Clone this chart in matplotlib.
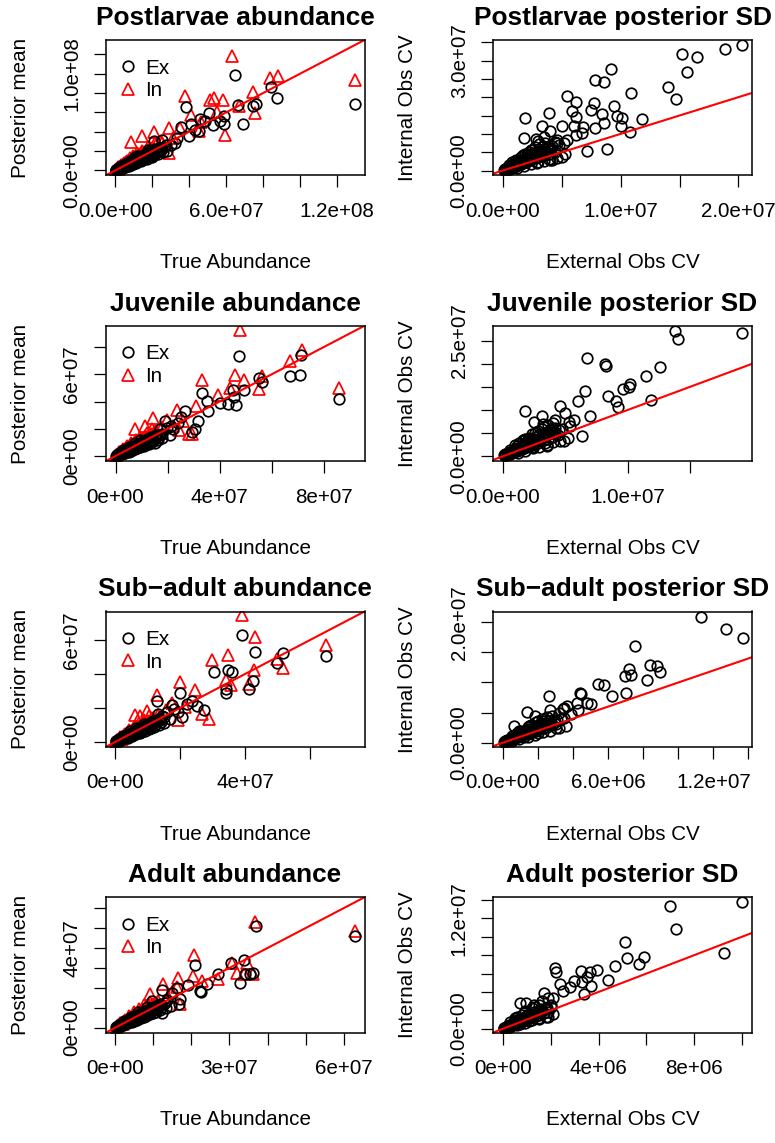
import numpy as np
from matplotlib import pyplot as plt

plt.rcParams['font.family'] = ['Liberation Sans', 'DejaVu Sans']

SCALE = 1e6  # all values below are in millions

# ---------------- Postlarvae ----------------
pl_ex = [(0.2,0.3),(0.5,0.4),(0.8,0.9),(1.1,0.8),(1.4,1.6),(1.8,1.5),(2.1,2.4),(2.5,2.0),(2.9,3.1),(3.2,2.7),
         (3.6,3.9),(4.0,3.4),(4.5,4.8),(4.9,4.2),(5.4,5.9),(5.8,4.9),(6.3,6.7),(6.9,5.8),(7.4,8.0),(7.9,6.6),
         (8.5,9.1),(9.1,7.7),(9.7,10.4),(10.4,8.9),(11.0,11.8),(11.7,9.8),(12.4,13.0),(13.2,11.1),(13.9,14.6),(14.7,12.3),
         (15.5,16.2),(16.3,13.4),(17.2,17.8),(18.1,15.2),(19.0,19.9),(20.2,16.8),(21.3,21.7),(22.5,18.6),(23.8,23.1),(25.0,21.4),
         (26.4,24.6),(3.0,4.6),(5.2,7.0),(8.0,10.1),(10.9,13.6),(6.5,4.7),(9.8,7.1),(14.2,10.6),(17.6,20.8),(12.0,15.1),
         (0.4,0.7),(1.0,1.2),(1.6,1.2),(2.3,2.9),(2.7,2.4),(3.4,3.2),(4.2,4.7),(4.7,3.7),(5.6,6.3),(6.1,5.3),
         (7.0,7.4),(7.6,6.3),(8.8,8.5),(9.4,9.9),(10.1,9.4),(11.4,10.6),(12.8,12.1),(13.6,12.5),(15.1,14.5),(16.0,15.6),
         (18.6,17.7),(19.6,18.3),(22.0,20.5),(24.5,22.9),(27.5,26.0),
         (3.5,2.2),(5.0,3.3),(7.2,4.9),(8.6,6.0),(11.0,7.9),(12.5,9.2),(15.8,11.9),(18.8,14.3),(21.0,15.9),(23.2,17.2),
         (26.0,19.5),(4.4,2.6),(13.9,9.6),(17.0,12.0),(20.0,13.6),
         (20.8,30.0),(25.3,31.7),(28.0,19.7),(32.5,28.3),(35.7,44.5),(39.7,35.9),(41.2,48.3),(45.1,40.3),(46.0,53.4),(50.9,59.3),
         (53.0,47.0),(56.5,50.8),(58.6,47.5),(38.3,65.5),(65.0,99.0),(66.4,67.9),(69.1,48.3),(74.4,66.2),(76.2,68.6),(84.3,86.2),
         (87.5,74.5),(129.6,69.0),(30.0,26.0),(33.5,33.0),(43.0,42.0),(48.5,51.0),(59.0,56.0)]
pl_in = [(0.3,0.5),(0.6,1.0),(1.0,1.4),(1.3,2.0),(1.7,2.3),(2.1,3.0),(2.5,3.4),(2.9,4.2),(3.4,4.6),(3.8,5.5),
         (4.3,5.9),(4.8,6.9),(5.3,7.2),(5.9,8.4),(6.5,8.6),(7.1,10.0),(7.7,10.1),(8.4,11.7),(9.1,11.9),(9.8,13.5),
         (10.6,13.5),(11.4,15.3),(12.2,15.0),(13.1,17.2),(14.0,16.8),(15.0,19.4),(16.0,18.6),(17.1,21.3),(18.3,20.5),(19.5,23.4),
         (20.8,22.6),(22.1,25.8),(23.6,24.7),(25.2,28.0),(4.0,4.2),(7.0,7.6),(10.2,10.9),(13.5,14.0),(16.8,16.5),(2.0,1.8),
         (1.5,3.0),(3.0,5.4),(4.6,7.8),(6.2,9.9),(8.0,12.6),(9.5,14.7),(11.8,17.5),(14.5,20.5),(17.5,24.5),(21.5,28.8),
         (8.7,29.0),(14.4,35.2),(20.8,39.3),(28.9,43.8),(35.2,43.8),(45.1,40.3),(28.9,17.9),(37.9,76.5),(41.2,57.6),(51.4,73.1),
         (53.3,74.8),(58.1,73.1),(59.6,36.9),(66.8,66.9),(63.2,117.9),(74.4,80.7),(75.8,59.3),(83.9,95.5),(87.9,97.2),(129.6,93.8),
         (31.0,33.0),(24.5,30.5),(46.5,50.5),(55.0,60.5)]
pl_sd = [(0.1,0.2),(0.2,0.5),(0.3,0.3),(0.4,0.8),(0.5,0.5),(0.6,1.1),(0.7,0.7),(0.8,1.4),(0.9,1.0),(1.0,1.8),
         (1.1,1.2),(1.2,2.1),(1.3,1.5),(1.4,2.5),(1.5,1.7),(1.6,2.8),(1.7,2.0),(1.8,3.2),(1.9,2.3),(2.0,3.6),
         (2.1,2.6),(2.2,4.0),(2.3,2.9),(2.4,4.3),(2.5,3.1),(2.6,4.7),(2.8,3.4),(2.9,5.0),(3.0,3.6),(3.2,5.4),
         (3.3,3.9),(3.5,5.8),(3.6,4.2),(3.8,6.1),(4.0,4.6),(4.2,6.6),(4.4,5.0),(0.5,1.5),(1.0,2.6),(1.5,3.6),
         (0.8,2.2),(2.2,5.1),(1.9,4.6),(3.1,7.1),(2.7,6.4),(4.6,7.4),(3.0,2.4),(3.9,3.1),(4.2,2.9),(4.8,7.0),
         (0.15,0.35),(0.35,0.6),(0.55,0.9),(0.75,1.0),(0.95,1.5),(1.15,1.6),(1.35,1.9),(1.55,2.3),(1.75,2.5),(1.95,2.9),
         (2.15,3.2),(2.35,3.5),(2.55,3.9),(2.75,4.1),(3.0,4.6),(3.25,4.5),(3.45,5.0),(3.7,5.1),(3.9,5.5),(4.1,5.9),
         (1.3,3.0),(2.0,4.6),(2.5,5.6),(3.4,6.6),(4.4,7.9),(3.0,8.0),
         (0.6,0.4),(1.2,0.8),(1.8,1.3),(2.4,1.8),(2.9,2.1),(3.5,2.6),(4.0,2.9),(4.6,3.4),(5.0,3.6),(5.3,4.4),
         (1.1,2.9),(1.7,4.1),(2.4,5.6),(3.6,7.6),
         (5.2,7.6),(1.9,14.3),(1.8,8.8),(3.9,15.6),(3.3,12.2),(4.0,10.8),(2.8,8.5),(3.5,9.2),(4.6,8.2),(5.0,12.2),
         (5.4,8.4),(5.4,20.4),(6.2,18.6),(5.9,16.1),(6.2,14.7),(6.0,12.2),(6.8,11.8),(6.7,10.2),(6.2,9.8),(7.1,5.2),
         (7.5,16.4),(7.7,18.4),(7.8,24.7),(7.8,11.7),(8.4,15.5),(8.6,12.9),(8.6,24.1),(8.8,5.8),(9.2,27.6),(9.4,17.6),
         (9.7,15.0),(10.0,12.2),(10.1,14.2),(10.8,10.6),(10.9,21.1),(11.8,14.0),(14.0,22.7),(14.7,19.5),(15.2,31.8),(15.6,26.8),
         (16.5,30.9),(18.9,33.1),(20.3,34.3)]

# ---------------- Juvenile ----------------
jv_ex = [(0.2,0.3),(0.5,0.4),(0.8,0.9),(1.1,0.8),(1.4,1.5),(1.7,1.3),(2.0,2.2),(2.4,1.9),(2.8,2.9),(3.1,2.5),
         (3.5,3.6),(3.9,3.1),(4.3,4.5),(4.7,3.9),(5.2,5.4),(5.6,4.6),(6.1,6.4),(6.6,5.4),(7.1,7.3),(7.6,6.3),
         (8.2,8.4),(8.8,7.3),(9.4,9.7),(10.0,8.3),(10.7,11.0),(11.3,9.4),(12.0,12.4),(12.8,10.6),(13.6,13.9),(14.5,11.8),
         (15.4,15.6),(16.3,13.0),(3.0,4.1),(5.0,6.6),(7.3,9.2),(9.6,11.6),(6.2,4.3),(9.0,6.5),(12.0,8.8),(1.0,1.6),
         (0.4,0.6),(0.9,1.1),(1.3,1.0),(1.9,1.9),(2.3,2.6),(2.7,2.2),(3.3,3.3),(3.7,4.0),(4.1,3.7),(4.6,4.8),
         (5.0,4.3),(5.8,5.6),(6.4,6.0),(7.0,6.8),(7.9,7.6),(8.6,8.2),(9.2,8.7),(10.3,9.8),(11.0,10.2),(11.7,11.3),
         (12.5,11.6),(13.2,12.7),(14.0,13.1),(15.0,14.2),(16.8,15.8),(17.8,16.3),
         (3.0,2.0),(4.5,3.1),(6.0,4.0),(7.5,5.1),(9.5,6.6),(11.0,7.6),(13.0,9.1),(14.2,10.1),(16.5,11.8),(18.0,13.4),
         (5.2,3.3),(8.3,5.6),
         (15.2,9.8),(19.0,25.6),(19.6,20.5),(22.2,19.5),(20.9,15.6),(26.7,32.9),(24.2,24.0),(29.3,17.6),(30.5,19.5),(31.8,25.6),
         (33.4,46.3),(35.1,40.2),(35.4,32.9),(40.2,39.0),(43.4,38.5),(45.0,48.3),(46.3,37.8),(45.7,43.0),(47.5,73.7),(49.2,48.3),
         (55.0,57.3),(56.2,54.1),(67.2,59.0),(71.0,59.8),(71.4,73.9),(85.8,42.0),(17.0,19.5),(21.5,22.3),(25.0,28.5)]
jv_in = [(0.3,0.5),(0.6,1.0),(1.0,1.3),(1.3,1.9),(1.7,2.2),(2.1,2.9),(2.5,3.2),(2.9,4.0),(3.4,4.3),(3.8,5.2),
         (4.3,5.5),(4.8,6.5),(5.3,6.8),(5.9,7.9),(6.5,8.1),(7.1,9.4),(7.7,9.6),(8.4,11.1),(9.1,11.2),(9.8,12.8),
         (10.6,12.8),(11.4,14.5),(12.2,14.3),(13.1,16.3),(14.0,16.0),(15.0,18.2),(16.0,17.5),(2.0,1.9),(5.0,5.1),(8.0,8.2),
         (11.0,11.1),(1.5,2.9),(3.0,4.9),(4.5,7.1),(6.0,9.2),(7.8,11.8),(9.5,14.2),(12.0,17.0),(14.0,19.5),
         (7.4,19.5),(11.3,22.0),(14.5,28.0),(19.6,26.8),(23.5,34.1),(22.0,22.0),(26.0,25.5),(29.3,15.9),(28.2,15.9),
         (30.8,36.6),(33.4,55.6),(39.5,45.1),(44.0,50.0),(46.0,59.8),(47.9,92.7),(49.2,56.1),(55.0,49.3),(56.2,58.5),(67.2,69.5),
         (71.6,78.0),(86.0,50.0),(18.0,21.0),(24.5,19.0)]
jv_sd = [(0.1,0.2),(0.2,0.4),(0.3,0.3),(0.4,0.7),(0.5,0.5),(0.6,0.9),(0.7,0.7),(0.8,1.2),(0.9,0.9),(1.0,1.5),
         (1.1,1.1),(1.2,1.8),(1.3,1.3),(1.4,2.1),(1.5,1.5),(1.6,2.4),(1.7,1.8),(1.8,2.8),(1.9,2.0),(2.0,3.1),
         (2.1,2.2),(2.2,3.4),(2.3,2.4),(2.4,3.8),(2.5,2.7),(2.6,4.1),(2.8,2.9),(2.9,4.5),(3.0,3.2),(3.2,4.9),
         (3.3,3.5),(3.5,5.3),(3.6,3.8),(3.8,5.7),(4.0,4.2),(4.2,6.1),(4.4,4.6),(0.6,1.4),(1.1,2.3),(1.6,3.2),
         (2.1,4.0),(2.6,5.0),(3.1,5.9),(3.6,6.7),(4.0,7.2),(2.3,1.9),(3.4,2.9),(1.8,3.7),(3.9,6.2),(4.7,5.9),
         (0.15,0.3),(0.35,0.5),(0.55,0.8),(0.75,0.9),(0.95,1.3),(1.15,1.4),(1.35,1.8),(1.55,1.9),(1.75,2.3),(1.95,2.5),
         (2.15,2.9),(2.35,3.0),(2.55,3.4),(2.75,3.6),(3.0,4.0),(3.25,4.2),(3.45,4.6),(3.7,4.8),(3.9,5.2),(4.2,5.3),
         (4.5,5.6),(1.3,2.8),(2.0,3.8),(2.8,5.5),(3.3,6.4),
         (0.6,0.4),(1.2,0.8),(1.8,1.2),(2.4,1.7),(2.9,2.0),(3.5,2.5),(4.0,3.0),(4.6,3.3),(5.2,3.9),(1.0,2.4),
         (1.6,3.6),(2.3,4.9),(3.2,6.9),
         (1.8,9.7),(3.1,8.8),(2.5,7.4),(3.5,2.3),(4.6,10.8),(5.0,9.3),(4.9,3.2),(4.2,7.9),(5.3,7.3),(5.7,7.8),
         (5.4,6.6),(6.0,11.9),(6.3,4.3),(6.6,14.0),(6.7,21.2),(7.0,8.8),(8.2,20.0),(8.3,19.6),(8.4,13.1),(9.1,11.9),
         (9.2,10.6),(9.6,14.5),(10.2,15.7),(10.1,15.0),(11.5,17.4),(11.9,12.2),(12.6,19.2),(13.8,27.1),(14.0,25.3),(19.2,26.7)]

# ---------------- Sub-adult ----------------
sa_ex = [(0.2,0.3),(0.4,0.3),(0.7,0.8),(0.9,0.7),(1.2,1.3),(1.5,1.1),(1.8,1.9),(2.1,1.7),(2.4,2.6),(2.8,2.3),
         (3.1,3.3),(3.5,2.9),(3.9,4.1),(4.3,3.6),(4.7,5.0),(5.2,4.3),(5.7,6.0),(6.2,5.2),(6.7,7.0),(7.2,6.1),
         (7.8,8.2),(8.4,7.1),(9.0,9.4),(9.6,8.1),(10.3,10.7),(11.0,9.3),(11.7,12.1),(12.5,10.6),(13.3,13.5),(14.1,11.7),
         (2.5,3.6),(4.5,6.2),(6.5,8.4),(8.8,10.8),(5.5,3.8),(8.0,5.9),(11.0,8.3),(1.0,1.5),(15.0,14.6),
         (0.3,0.5),(0.8,0.9),(1.1,1.0),(1.6,1.6),(1.9,2.2),(2.3,2.0),(2.7,2.9),(3.0,2.7),(3.5,3.6),(3.7,3.3),
         (4.1,4.4),(4.5,4.0),(5.0,5.2),(5.4,4.8),(6.0,6.3),(6.5,5.8),(7.0,7.4),(7.5,6.7),(8.1,8.5),(8.7,7.8),
         (9.3,9.7),(10.0,9.0),(10.7,11.0),(11.4,10.2),(12.1,12.5),(13.8,12.6),
         (2.5,1.6),(3.8,2.5),(5.0,3.3),(6.4,4.4),(7.5,5.3),(9.0,6.4),(10.5,7.5),(12.0,8.7),(13.5,10.0),(15.0,11.2),
         (16.8,13.2),
         (12.7,23.8),(14.5,15.5),(16.0,17.5),(17.3,21.4),(17.9,19.5),(19.9,28.8),(20.4,14.6),(19.4,17.5),(23.5,24.3),(25.0,21.0),
         (27.4,18.5),(30.2,41.3),(34.0,28.8),(34.0,31.0),(34.8,42.4),(35.9,40.9),(39.0,62.7),(41.2,30.8),(42.3,36.0),(42.9,53.0),
         (49.6,46.3),(51.5,52.2),(64.7,50.2),(22.0,22.5),(13.0,16.5)]
sa_in = [(0.3,0.5),(0.6,0.9),(0.9,1.3),(1.2,1.8),(1.6,2.1),(2.0,2.8),(2.4,3.1),(2.8,3.8),(3.2,4.1),(3.7,5.0),
         (4.2,5.2),(4.7,6.2),(5.2,6.4),(5.8,7.6),(6.4,7.7),(7.0,9.0),(7.6,9.1),(8.3,10.6),(9.0,10.6),(9.7,12.2),
         (10.5,12.1),(11.3,13.9),(12.1,13.6),(13.0,15.6),(2.0,1.9),(5.0,5.0),(8.0,8.0),(11.0,10.8),
         (1.5,2.8),(3.0,4.8),(4.3,6.8),(5.7,8.8),(7.2,11.0),(8.8,13.0),(10.5,15.2),
         (6.0,16.0),(7.5,15.0),(9.8,18.0),(12.7,27.3),(17.3,23.0),(19.9,35.0),(19.4,12.7),(21.5,20.5),(24.5,30.2),(26.6,16.5),
         (28.7,13.6),(29.7,48.3),(34.6,51.0),(34.0,36.5),(35.5,33.5),(39.0,74.4),(41.2,34.1),(42.6,42.4),(43.1,61.9),(49.6,48.5),
         (51.5,43.2),(64.7,56.9),(15.5,18.5)]
sa_sd = [(0.05,0.1),(0.1,0.2),(0.2,0.2),(0.25,0.4),(0.3,0.3),(0.4,0.6),(0.45,0.5),(0.5,0.8),(0.6,0.6),(0.65,1.0),
         (0.7,0.8),(0.8,1.2),(0.85,0.9),(0.9,1.4),(1.0,1.1),(1.05,1.6),(1.1,1.2),(1.2,1.8),(1.3,1.4),(1.35,2.0),
         (1.4,1.5),(1.5,2.2),(1.6,1.7),(1.65,2.4),(1.7,1.9),(1.8,2.6),(1.9,2.0),(2.0,2.9),(2.1,2.2),(2.2,3.1),
         (2.3,2.4),(2.4,3.3),(2.5,2.6),(2.6,3.6),(2.8,2.9),(2.9,3.8),(3.0,3.1),(0.5,1.1),(1.0,2.0),(1.5,2.8),
         (2.0,3.6),(2.5,4.2),(1.2,0.9),(2.0,1.6),
         (0.15,0.25),(0.35,0.45),(0.55,0.7),(0.75,0.9),(0.95,1.25),(1.15,1.45),(1.25,1.65),(1.45,1.85),(1.55,2.0),(1.75,2.2),
         (1.85,2.4),(2.05,2.6),(2.25,2.75),(2.35,2.9),(2.55,3.1),(2.7,3.3),(2.95,3.5),(3.1,3.7),(3.3,3.9),(3.5,4.1),
         (0.8,1.6),(1.6,2.9),(2.3,3.6),
         (0.5,0.35),(0.9,0.6),(1.4,1.0),(1.8,1.3),(2.3,1.7),(2.7,2.0),(3.2,2.4),(3.6,2.7),(0.9,1.9),(1.4,2.6),
         (1.9,3.4),(2.8,4.4),
         (0.6,2.8),(1.37,5.1),(1.8,4.4),(2.2,3.9),(2.6,7.7),(2.7,5.4),(3.05,2.5),(3.2,4.9),(3.4,5.6),(3.66,6.1),
         (3.5,5.8),(4.3,5.4),(4.4,8.2),(4.45,8.1),(4.2,6.6),(4.8,6.6),(5.0,6.5),(5.4,9.7),(5.75,9.6),(6.2,7.8),
         (6.95,11.1),(7.0,8.2),(7.2,12.3),(7.3,11.2),(7.5,16.1),(8.2,10.4),(8.4,12.9),(8.8,12.7),(8.95,11.8),(11.3,20.9),
         (12.7,18.9),(13.7,17.4),(3.9,4.7)]

# ---------------- Adult ----------------
ad_ex = [(0.2,0.3),(0.4,0.3),(0.6,0.7),(0.8,0.6),(1.1,1.2),(1.3,1.0),(1.6,1.7),(1.9,1.5),(2.2,2.4),(2.5,2.1),
         (2.8,3.0),(3.1,2.6),(3.5,3.7),(3.8,3.2),(4.2,4.4),(4.6,3.9),(5.0,5.3),(5.4,4.6),(5.9,6.2),(6.3,5.3),
         (6.8,7.1),(7.3,6.2),(7.8,8.1),(8.4,7.0),(9.0,9.3),(9.6,8.1),(10.2,10.5),(10.9,9.1),(11.6,11.9),(12.3,10.3),
         (2.2,3.2),(4.0,5.4),(6.0,7.8),(8.2,10.2),(5.0,3.5),(7.4,5.3),(10.0,7.5),(1.0,1.5),(13.0,12.4),
         (0.3,0.5),(0.7,0.9),(0.9,0.8),(1.2,1.4),(1.5,1.4),(1.8,2.0),(2.0,1.9),(2.4,2.7),(2.7,2.5),(3.0,3.3),
         (3.3,3.0),(3.7,4.0),(4.0,3.6),(4.4,4.7),(4.8,4.3),(5.2,5.6),(5.6,5.0),(6.1,6.5),(6.6,6.0),(7.1,7.5),
         (7.6,7.0),(8.1,8.5),(8.7,8.0),(9.3,9.7),(9.9,9.0),(10.6,10.9),(11.2,10.1),(12.0,11.4),
         (2.0,1.3),(3.2,2.2),(4.4,3.0),(5.6,3.9),(6.8,4.8),(8.0,5.7),(9.2,6.6),(10.6,7.6),(11.8,8.6),(13.2,9.6),
         (14.5,11.0),
         (9.5,13.3),(12.3,18.7),(12.3,7.5),(13.5,14.0),(15.0,17.5),(16.1,20.0),(17.0,14.2),(16.8,11.7),(19.2,21.3),(20.9,31.3),
         (22.5,18.0),(22.3,18.6),(26.9,27.0),(30.4,32.5),(32.8,22.5),(33.9,34.2),(34.1,27.0),(36.3,27.5),(35.5,26.8),(36.9,51.3),
         (62.9,45.8),(24.0,22.0)]
ad_in = [(0.3,0.5),(0.5,0.8),(0.8,1.2),(1.1,1.6),(1.4,1.9),(1.7,2.4),(2.0,2.7),(2.4,3.3),(2.8,3.5),(3.2,4.3),
         (3.6,4.5),(4.0,5.3),(4.5,5.5),(5.0,6.4),(5.5,6.6),(6.0,7.6),(6.6,7.8),(7.2,8.9),(7.8,9.0),(8.4,10.3),
         (9.1,10.4),(9.8,11.8),(10.5,11.8),(11.3,13.4),(2.0,1.9),(4.5,4.5),(7.0,7.0),(10.0,9.8),
         (1.2,2.3),(2.4,4.0),(3.6,5.8),(4.9,7.6),(6.2,9.4),(7.6,11.2),(9.0,13.0),
         (9.1,16.7),(12.6,21.7),(13.8,15.5),(16.5,24.7),(16.1,20.5),(17.0,11.7),(20.4,25.8),(20.7,36.3),(22.8,23.3),(27.1,24.2),
         (30.6,32.5),(34.5,32.5),(33.8,27.0),(36.2,27.0),(32.0,27.3),(36.7,53.3),(62.9,48.3),(15.0,18.0)]
ad_sd = [(0.03,0.05),(0.07,0.12),(0.1,0.1),(0.14,0.22),(0.18,0.2),(0.22,0.33),(0.26,0.28),(0.3,0.45),(0.34,0.36),(0.38,0.56),
         (0.42,0.45),(0.46,0.68),(0.5,0.52),(0.55,0.8),(0.6,0.6),(0.65,0.93),(0.7,0.72),(0.75,1.06),(0.8,0.82),(0.85,1.2),
         (0.9,0.92),(0.95,1.34),(1.0,1.02),(1.06,1.48),(1.12,1.12),(1.18,1.62),(1.24,1.24),(1.3,1.78),(1.38,1.36),(1.45,1.95),
         (1.52,1.5),(1.6,2.1),(1.7,1.68),(1.8,2.3),(1.9,1.85),(0.3,0.7),(0.6,1.3),(0.9,1.8),(1.2,2.2),(1.5,2.6),
         (0.7,0.5),(1.1,0.85),(1.5,1.2),(1.62,3.05),(2.0,2.4),
         (0.05,0.1),(0.12,0.18),(0.2,0.28),(0.28,0.38),(0.36,0.48),(0.44,0.58),(0.52,0.66),(0.58,0.75),(0.62,0.86),(0.68,0.88),
         (0.78,0.98),(0.88,1.1),(0.98,1.2),(1.08,1.3),(1.16,1.4),(1.22,1.5),(1.34,1.6),(1.42,1.7),(1.55,1.8),(1.65,1.95),
         (1.75,2.1),(1.85,2.2),(0.5,1.0),(0.8,1.5),(1.35,2.4),
         (0.3,0.2),(0.6,0.4),(0.9,0.6),(1.2,0.9),(1.5,1.05),(1.8,1.3),(2.1,1.55),(0.5,1.2),(0.9,1.9),(1.3,2.6),
         (1.9,3.3),
         (0.7,2.8),(0.95,2.8),(1.7,3.9),(1.9,1.3),(2.0,2.6),(2.1,3.3),(2.16,6.6),(2.2,6.2),(2.4,4.9),(2.5,4.1),
         (2.8,4.5),(2.95,5.2),(3.25,6.25),(3.3,5.1),(3.4,3.8),(3.65,6.2),(3.7,4.6),(3.95,6.4),(4.4,5.3),(4.7,6.8),
         (5.1,9.45),(5.2,7.7),(5.7,7.0),(5.9,7.75),(7.0,13.3),(7.25,10.9),(9.26,8.25),(10.0,13.75),(3.5,5.6)]

titles = ['Postlarvae abundance', 'Postlarvae posterior SD',
          'Juvenile abundance', 'Juvenile posterior SD',
          'Sub\u2212adult abundance', 'Sub\u2212adult posterior SD',
          'Adult abundance', 'Adult posterior SD']

# axis limits (millions)
xlims = [(-5.3, 134.9), (-0.85, 21.16), (-3.85, 95.7), (-0.8, 19.97),
         (-3.0, 76.6), (-0.57, 14.2), (-2.6, 65.5), (-0.42, 10.42)]
ylims = [(-5.3, 134.9), (-1.36, 35.6), (-3.85, 95.7), (-1.08, 28.2),
         (-3.0, 76.6), (-0.72, 21.8), (-2.6, 65.5), (-0.44, 14.3)]

# ticks (millions) and which of them carry a label
xticks = [[0, 20, 40, 60, 80, 100, 120], [0, 5, 10, 15, 20], [0, 20, 40, 60, 80], [0, 5, 10, 15],
          [0, 20, 40, 60], [0, 2, 4, 6, 8, 10, 12, 14], [0, 10, 20, 30, 40, 50, 60], [0, 2, 4, 6, 8, 10]]
xtlabs = [['0.0e+00', '', '', '6.0e+07', '', '', '1.2e+08'], ['0.0e+00', '', '1.0e+07', '', '2.0e+07'],
          ['0e+00', '', '4e+07', '', '8e+07'], ['0.0e+00', '', '1.0e+07', ''],
          ['0e+00', '', '4e+07', ''], ['0.0e+00', '', '', '6.0e+06', '', '', '1.2e+07', ''],
          ['0e+00', '', '', '3e+07', '', '', '6e+07'], ['0e+00', '', '4e+06', '', '8e+06', '']]
yticks = [[0, 20, 40, 60, 80, 100, 120], [0, 5, 10, 15, 20, 25, 30, 35], [0, 20, 40, 60, 80], [0, 5, 10, 15, 20, 25],
          [0, 20, 40, 60], [0, 5, 10, 15, 20], [0, 10, 20, 30, 40, 50, 60], [0, 2, 4, 6, 8, 10, 12, 14]]
ytlabs = [['0.0e+00', '', '', '', '', '1.0e+08', ''], ['0.0e+00', '', '', '', '', '', '3.0e+07', ''],
          ['0e+00', '', '', '6e+07', ''], ['0.0e+00', '', '', '', '', '2.5e+07'],
          ['0e+00', '', '', '6e+07'], ['0.0e+00', '', '', '', '2.0e+07'],
          ['0e+00', '', '', '', '4e+07', '', ''], ['0.0e+00', '', '', '', '', '', '1.2e+07', '']]

abund = [(pl_ex, pl_in), (jv_ex, jv_in), (sa_ex, sa_in), (ad_ex, ad_in)]
sds = [pl_sd, jv_sd, sa_sd, ad_sd]

FS = 14.9
W, H = 775, 1143
PW, PH = W / 2, H / 4
BOX_L, BOX_W, BOX_T, BOX_H = 105.5, 259, 40, 135.5

fig = plt.figure(figsize=(W / 100, H / 100), dpi=100)

for i in range(8):
    r, c = divmod(i, 2)
    left = c * PW + BOX_L
    top = r * PH + BOX_T
    ax = fig.add_axes([left / W, 1 - (top + BOX_H) / H, BOX_W / W, BOX_H / H])

    if c == 0:
        ex, inn = abund[r]
        ex = np.array(ex) * SCALE
        inn = np.array(inn) * SCALE
        h_in, = ax.plot(inn[:, 0], inn[:, 1], ls='None', marker='^', mfc='none', mec='red',
                        ms=8.4, mew=1.25, label='In')
        h_ex, = ax.plot(ex[:, 0], ex[:, 1], ls='None', marker='o', mfc='none', mec='black',
                        ms=7.6, mew=1.25, label='Ex')
        ax.legend(handles=[h_ex, h_in], loc='upper left', frameon=False, fontsize=FS,
                  numpoints=1, borderaxespad=0.55, borderpad=0.35, handlelength=0.35,
                  handletextpad=0.65, labelspacing=0.17)
        ax.set_xlabel('True Abundance', fontsize=FS)
        ax.set_ylabel('Posterior mean', fontsize=FS)
    else:
        sd = np.array(sds[r]) * SCALE
        ax.plot(sd[:, 0], sd[:, 1], ls='None', marker='o', mfc='none', mec='black',
                ms=7.6, mew=1.25)
        ax.set_xlabel('External Obs CV', fontsize=FS)
        ax.set_ylabel('Internal Obs CV', fontsize=FS)

    ax.axline((0, 0), slope=1, color='red', lw=1.5)

    ax.set_xlim(xlims[i][0] * SCALE, xlims[i][1] * SCALE)
    ax.set_ylim(ylims[i][0] * SCALE, ylims[i][1] * SCALE)
    ax.set_xticks(np.array(xticks[i]) * SCALE)
    ax.set_xticklabels(xtlabs[i], fontsize=FS)
    ax.set_yticks(np.array(yticks[i]) * SCALE)
    ax.set_yticklabels(ytlabs[i], fontsize=FS, rotation=90, va='center')
    ax.tick_params(direction='out', length=8.5, width=0.9)
    ax.tick_params(axis='x', pad=10.5)
    ax.tick_params(axis='y', pad=9)

    for sp in ax.spines.values():
        sp.set_linewidth(1.1)

    ax.xaxis.set_label_coords(0.5, -0.572)
    ax.yaxis.set_label_coords(-0.293, 0.5)
    ax.set_title(titles[i], fontsize=18.9, fontweight='bold', pad=10.8)

fig.savefig('out.png', dpi=100)
